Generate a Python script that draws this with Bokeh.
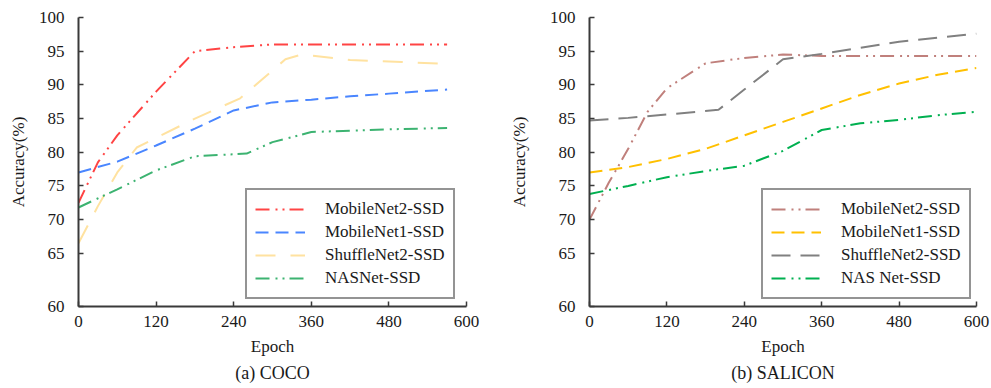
from bokeh.plotting import figure
from bokeh.layouts import row
from bokeh.models import Range1d, FixedTicker, Title
from bokeh.embed import file_html
from bokeh.resources import INLINE

# ---------------- data ----------------
names = ["MobileNet2-SSD", "MobileNet1-SSD", "ShuffleNet2-SSD", "NASNet-SSD"]
names_b = ["MobileNet2-SSD", "MobileNet1-SSD", "ShuffleNet2-SSD", "NAS Net-SSD"]
x_ticks = [0, 120, 240, 360, 480, 600]
y_ticks = [65, 70, 75, 80, 85, 90, 95, 100]

# (a) COCO
coco_m2_x = [0, 30, 60, 120, 180, 240, 300, 360, 420, 480, 570]
coco_m2_y = [72.5, 78.5, 82.5, 89, 95, 95.6, 96, 96, 96, 96, 96]
coco_m1_x = [0, 60, 120, 180, 240, 300, 360, 420, 480, 570]
coco_m1_y = [77, 78.6, 81, 83.5, 86.2, 87.4, 87.8, 88.3, 88.7, 89.3]
coco_sh_x = [0, 30, 60, 90, 180, 250, 320, 345, 420, 500, 570]
coco_sh_y = [66.5, 72, 77, 80.7, 85, 88, 93.8, 94.5, 93.7, 93.4, 93.1]
coco_na_x = [0, 60, 120, 180, 260, 300, 360, 420, 480, 570]
coco_na_y = [71.8, 74.5, 77.3, 79.4, 79.8, 81.5, 83, 83.2, 83.4, 83.6]

# (b) SALICON
sal_m2_x = [0, 30, 60, 90, 120, 180, 240, 300, 360, 480, 600]
sal_m2_y = [70, 75.5, 80.5, 86, 89.5, 93.2, 94, 94.5, 94.3, 94.3, 94.3]
sal_m1_x = [0, 60, 120, 180, 240, 300, 360, 420, 480, 540, 600]
sal_m1_y = [77, 77.8, 79, 80.5, 82.5, 84.5, 86.5, 88.5, 90.2, 91.5, 92.5]
sal_sh_x = [0, 60, 120, 200, 240, 300, 360, 420, 480, 540, 600]
sal_sh_y = [84.7, 85.1, 85.6, 86.3, 89.3, 93.8, 94.6, 95.5, 96.4, 97, 97.6]
sal_na_x = [0, 60, 120, 180, 240, 300, 360, 420, 480, 540, 600]
sal_na_y = [73.8, 75, 76.3, 77.2, 78, 80.2, 83.3, 84.3, 84.8, 85.5, 86]

FONT = "Liberation Serif"
TXT = "#1a1a1a"
AX = "#3a3a3a"
Y_BOTTOM = 57.1  # the reference's axis bottom (labelled 60, compressed segment)


def make_fig(width, border_left, border_right, caption, ylabel_standoff, legend_x,
             series, names_):
    p = figure(width=width, height=388, output_backend="svg", toolbar_location=None,
               x_range=Range1d(0, 600), y_range=Range1d(Y_BOTTOM, 100),
               min_border_left=border_left, min_border_right=border_right,
               min_border_top=17, min_border_bottom=82)
    p.outline_line_color = None
    p.xgrid.visible = False
    p.ygrid.visible = False
    p.background_fill_color = "white"
    p.border_fill_color = "white"

    for ax in (p.xaxis[0], p.yaxis[0]):
        ax.axis_line_color = AX
        ax.axis_line_width = 2
        ax.major_tick_line_color = AX
        ax.major_tick_line_width = 1.5
        ax.major_tick_out = 0
        ax.major_tick_in = 5
        ax.minor_tick_line_color = None
        ax.major_label_text_font = FONT
        ax.major_label_text_font_size = "17px"
        ax.major_label_text_color = TXT
        ax.axis_label_text_font = FONT
        ax.axis_label_text_font_size = "17px"
        ax.axis_label_text_font_style = "normal"
        ax.axis_label_text_color = TXT

    p.xaxis[0].ticker = FixedTicker(ticks=x_ticks)
    p.xaxis[0].major_label_standoff = 9
    p.xaxis[0].axis_label = "Epoch"
    p.xaxis[0].axis_label_standoff = 7

    p.yaxis[0].ticker = FixedTicker(ticks=[Y_BOTTOM] + y_ticks)
    p.yaxis[0].major_label_overrides = {Y_BOTTOM: "60"}
    p.yaxis[0].major_label_standoff = 14
    p.yaxis[0].axis_label = "Accuracy(%)"
    p.yaxis[0].axis_label_standoff = ylabel_standoff

    for (xs, ys, color, dash), name in zip(series, names_):
        p.line(xs, ys, line_color=color, line_width=2, line_dash=dash, legend_label=name)

    lg = p.legend[0]
    lg.location = (legend_x, 7)
    lg.border_line_color = "#2a2a2a"
    lg.border_line_width = 2
    lg.background_fill_color = "white"
    lg.background_fill_alpha = 1
    lg.padding = 8
    lg.spacing = 1
    lg.margin = 0
    lg.glyph_width = 50
    lg.glyph_height = 20
    lg.label_height = 22
    lg.label_standoff = 20
    lg.label_text_font = FONT
    lg.label_text_font_size = "17px"
    lg.label_text_color = TXT

    t = Title(text=caption, align="center", text_font=FONT, text_font_size="18px",
              text_font_style="normal", text_color=TXT, standoff=5)
    p.add_layout(t, "below")
    return p


DDOT = "14 6 2 5 2 5"
DASH = "13 7"
LONG = "20 15"

left = make_fig(495, 78, 29, "(a) COCO", 8, 167, [
    (coco_m2_x, coco_m2_y, "#ff4444", DDOT),
    (coco_m1_x, coco_m1_y, "#4a86ff", DASH),
    (coco_sh_x, coco_sh_y, "#ffe2a0", LONG),
    (coco_na_x, coco_na_y, "#3cb371", DDOT),
], names)

right = make_fig(496, 94, 15, "(b) SALICON", 18, 172, [
    (sal_m2_x, sal_m2_y, "#c0807c", DDOT),
    (sal_m1_x, sal_m1_y, "#ffc000", DASH),
    (sal_sh_x, sal_sh_y, "#808080", "19 10"),
    (sal_na_x, sal_na_y, "#00b050", DDOT),
], names_b)

layout = row(left, right)
open("out.html", "w").write(file_html(layout, INLINE))
